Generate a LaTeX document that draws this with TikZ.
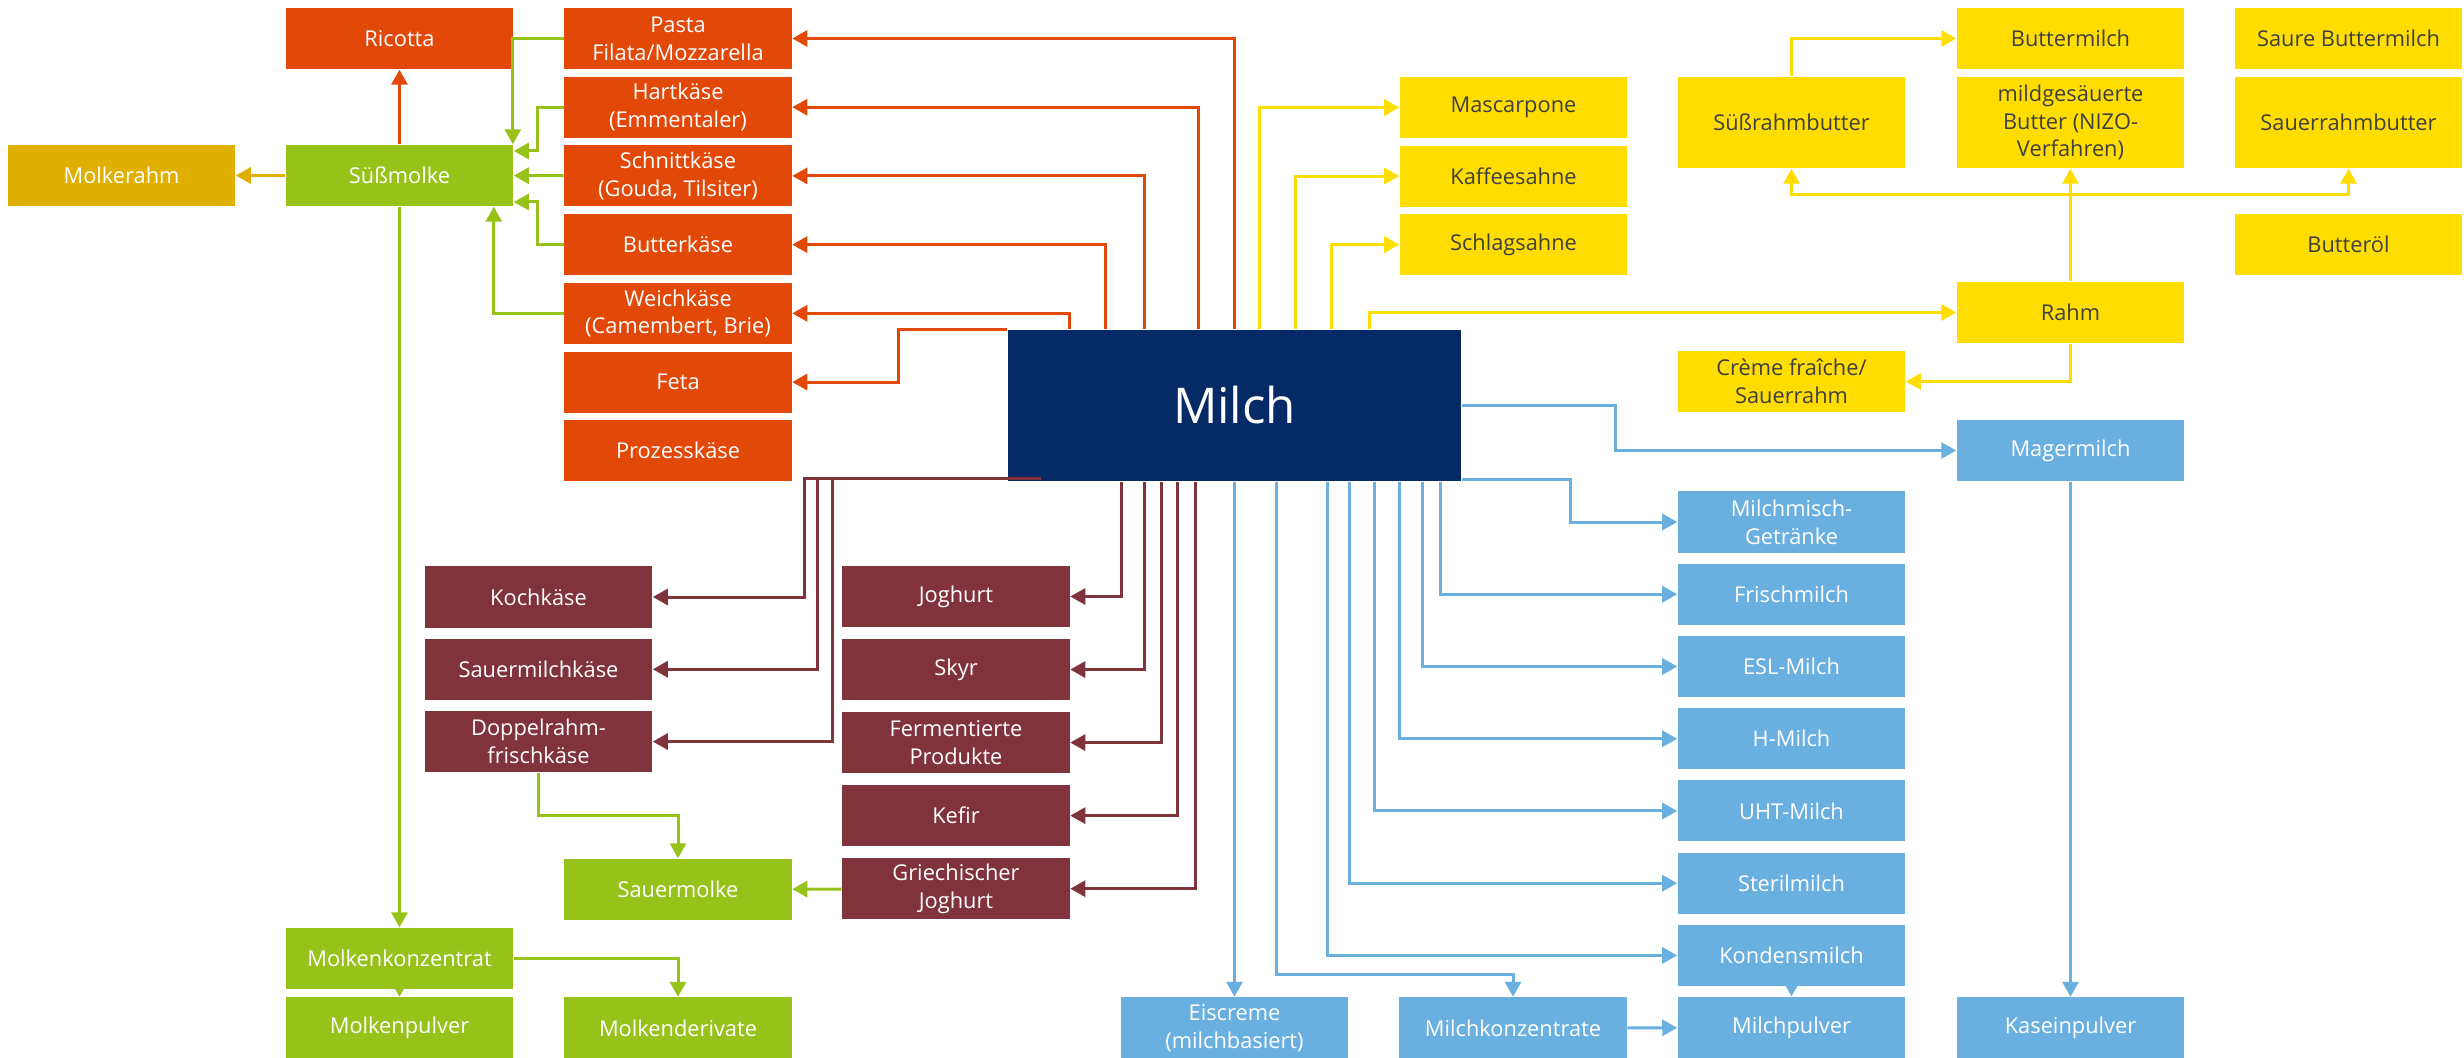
\documentclass[tikz,border=0pt]{standalone}
\usepackage{fontspec}
\setmainfont{Open Sans}
\usetikzlibrary{arrows.meta,calc}

\definecolor{kaese}{RGB}{226,72,8}
\definecolor{molke}{RGB}{151,194,26}
\definecolor{molkerahmgold}{RGB}{223,176,0}
\definecolor{rahmgelb}{RGB}{255,221,0}
\definecolor{sauermilch}{RGB}{128,51,59}
\definecolor{trinkblau}{RGB}{105,176,224}
\definecolor{milchblau}{RGB}{6,42,102}
\definecolor{schrift}{RGB}{64,64,64}

\tikzset{
  box/.style={rectangle,minimum width=2.27cm,minimum height=0.61cm,inner sep=0pt,
    align=center,font=\fontsize{6.2}{7.9}\selectfont},
  rbox/.style={box,fill=kaese,text=white},
  gbox/.style={box,fill=molke,text=white},
  ybox/.style={box,fill=rahmgelb,text=schrift},
  mbox/.style={box,fill=sauermilch,text=white},
  bbox/.style={box,fill=trinkblau,text=white},
  tall/.style={minimum height=0.91cm},
  link/.style={->,line width=0.03cm},
  rline/.style={link,draw=kaese},
  gline/.style={link,draw=molke},
  yline/.style={link,draw=rahmgelb},
  mline/.style={link,draw=sauermilch},
  bline/.style={link,draw=trinkblau}
}

\begin{document}
\begin{tikzpicture}[x=0.01cm,y=-0.01cm,>={Triangle[length=0.15cm,width=0.16cm]}]
  \useasboundingbox (0,0) rectangle (2464,1058);

  \node[fill=milchblau,text=white,minimum width=4.53cm,minimum height=1.51cm,
    font=\fontsize{14}{16}\selectfont] (milch) at (1234.5,405.5) {Milch};

  % Kaese
  \begin{scope}[node distance=0.6867cm]
  \node[rbox] (pasta) at (678,38.5) {Pasta\\Filata/Mozzarella};
  \node[rbox] (hart)    [below of=pasta]   {Hartkäse\\(Emmentaler)};
  \node[rbox] (schnitt) [below of=hart]    {Schnittkäse\\(Gouda, Tilsiter)};
  \node[rbox] (butter)  [below of=schnitt] {Butterkäse};
  \node[rbox] (weich)   [below of=butter]  {Weichkäse\\(Camembert, Brie)};
  \node[rbox] (feta)    [below of=weich]   {Feta};
  \node[rbox] (prozess) [below of=feta]    {Prozesskäse};
  \end{scope}
  \node[rbox] (ricotta) at (399.5,38.5) {Ricotta};
  \node[gbox] (suess) at (399.5,175.5) {Süßmolke};
  \node[box,fill=molkerahmgold,text=white] (molkerahm) at (121.5,175.5) {Molkerahm};

  % Molke
  \node[gbox] (mkonz) at (399.5,958.5) {Molkenkonzentrat};
  \node[gbox] (mkpulver) at (399.5,1028) {Molkenpulver};
  \node[gbox] (mderiv) at (678,1028) {Molkenderivate};
  \node[gbox] (sauermolke) at (678,889.5) {Sauermolke};

  % Sauermilch
  \begin{scope}[node distance=0.7225cm]
  \node[mbox] (koch) at (538.5,597) {Kochkäse};
  \node[mbox] (sauermk) [below of=koch]    {Sauermilchkäse};
  \node[mbox] (doppel)  [below of=sauermk] {Doppelrahm-\\frischkäse};
  \end{scope}
  \begin{scope}[node distance=0.73cm]
  \node[mbox] (jog) at (956,596.5) {Joghurt};
  \node[mbox] (skyr)   [below of=jog]   {Skyr};
  \node[mbox] (ferm)   [below of=skyr]  {Fermentierte\\Produkte};
  \node[mbox] (kefir)  [below of=ferm]  {Kefir};
  \node[mbox] (griech) [below of=kefir] {Griechischer\\Joghurt};
  \end{scope}

  % Sahne und Butter
  \begin{scope}[node distance=0.685cm]
  \node[ybox] (masc) at (1513.5,107.5) {Mascarpone};
  \node[ybox] (kaffee) [below of=masc]   {Kaffeesahne};
  \node[ybox] (schlag) [below of=kaffee] {Schlagsahne};
  \end{scope}
  \node[ybox,tall] (suessrahm) at (1791.5,122.5) {Süßrahmbutter};
  \node[ybox,tall] (mild) at (2070.5,122.5) {mildgesäuerte\\Butter (NIZO-\\Verfahren)};
  \node[ybox,tall] (sauerrahm) at (2348.5,122.5) {Sauerrahmbutter};
  \node[ybox] (buttermilch) at (2070.5,38.5) {Buttermilch};
  \node[ybox] (saure) at (2348.5,38.5) {Saure Buttermilch};
  \node[ybox] (butteroel) at (2348.5,244.5) {Butteröl};
  \node[ybox] (rahm) at (2070.5,312.5) {Rahm};
  \node[ybox] (creme) at (1791.5,381.5) {Crème fraîche/\\Sauerrahm};

  % Trinkmilch
  \node[bbox] (mager) at (2070.5,450.5) {Magermilch};
  \node[bbox] (kasein) at (2070.5,1028) {Kaseinpulver};
  \begin{scope}[node distance=0.722cm]
  \node[bbox] (misch) at (1791.5,522) {Milchmisch-\\Getränke};
  \node[bbox] (frisch)  [below of=misch]   {Frischmilch};
  \node[bbox] (esl)     [below of=frisch]  {ESL-Milch};
  \node[bbox] (hmilch)  [below of=esl]     {H-Milch};
  \node[bbox] (uht)     [below of=hmilch]  {UHT-Milch};
  \node[bbox] (steril)  [below of=uht]     {Sterilmilch};
  \node[bbox] (kondens) [below of=steril]  {Kondensmilch};
  \node[bbox] (mpulver) [below of=kondens] {Milchpulver};
  \end{scope}
  \node[bbox] (eis) at (1234.5,1028) {Eiscreme\\(milchbasiert)};
  \node[bbox] (konz) at (1513,1028) {Milchkonzentrate};

  % Milch -> Kaese
  \draw[rline] (milch.north) |- (pasta);
  \draw[rline] ($(milch.north)+(-36,0)$) |- (hart);
  \draw[rline] ($(milch.north)+(-90,0)$) |- (schnitt);
  \draw[rline] ($(milch.north)+(-129,0)$) |- (butter);
  \draw[rline] ($(milch.north)+(-165,0)$) |- (weich);
  \draw[rline] (milch.north west) -- ++(-109,0) |- (feta);

  % Kaese -> Molke
  \draw[gline] (pasta.west) -| ($(suess.north east)+(-1,0)$);
  \draw[gline] (hart.west) -- ++(-26,0) |- ($(suess.east)+(0,-24.5)$);
  \draw[gline] (schnitt) -- (suess);
  \draw[gline] (butter.west) -- ++(-26,0) |- ($(suess.east)+(0,26.5)$);
  \draw[gline] (weich.west) -| ($(suess.south east)+(-20,0)$);
  \draw[rline] (suess) -- (ricotta);
  \draw[link,draw=molkerahmgold] (suess) -- (molkerahm);
  \draw[gline] (suess) -- (mkonz);
  \draw[gline] (mkonz) -- (mkpulver);
  \draw[gline] (mkonz.east) -| (mderiv);
  \draw[gline] (doppel.south) -- ++(0,43) -| (sauermolke);
  \draw[gline] (griech) -- (sauermolke);

  % Milch -> Sauermilch
  \draw[mline] ($(milch.south west)+(34,-3)$) -- ++(-237,0) |- (koch);
  \draw[mline] ($(milch.south west)+(34,-3)$) -- ++(-224,0) |- (sauermk);
  \draw[mline] ($(milch.south west)+(34,-3)$) -- ++(-209,0) |- (doppel);
  \draw[mline] ($(milch.south)+(-113.5,0)$) |- (jog);
  \draw[mline] ($(milch.south)+(-90.5,0)$) |- (skyr);
  \draw[mline] ($(milch.south)+(-73.5,0)$) |- (ferm);
  \draw[mline] ($(milch.south)+(-57.5,0)$) |- (kefir);
  \draw[mline] ($(milch.south)+(-39.5,0)$) |- (griech);

  % Milch -> Sahne
  \draw[yline] ($(milch.north)+(25,0)$) |- (masc);
  \draw[yline] ($(milch.north)+(61,0)$) |- (kaffee);
  \draw[yline] ($(milch.north)+(97,0)$) |- (schlag);
  \draw[yline] ($(milch.north)+(135,0)$) |- (rahm);
  \draw[yline] (rahm) -- (mild);
  \draw[yline] (rahm.north) -- ++(0,-87) -| (suessrahm);
  \draw[yline] (rahm.north) -- ++(0,-87) -| (sauerrahm);
  \draw[yline] (suessrahm.north) |- (buttermilch);
  \draw[yline] (rahm.south) |- (creme);

  % Milch -> Trinkmilch
  \draw[bline] (milch.east) -- ++(154,0) |- (mager);
  \draw[bline] (mager) -- (kasein);
  \draw[bline] ($(milch.south east)+(0,-2)$) -- ++(109,0) |- (misch);
  \draw[bline] ($(milch.south)+(205.5,0)$) |- (frisch);
  \draw[bline] ($(milch.south)+(187.5,0)$) |- (esl);
  \draw[bline] ($(milch.south)+(164.5,0)$) |- (hmilch);
  \draw[bline] ($(milch.south)+(139.5,0)$) |- (uht);
  \draw[bline] ($(milch.south)+(114.5,0)$) |- (steril);
  \draw[bline] ($(milch.south)+(92.5,0)$) |- (kondens);
  \draw[bline] ($(milch.south)+(41.5,0)$) -- ++(0,493) -| (konz);
  \draw[bline] (milch.south) -- (eis);
  \draw[bline] (kondens) -- (mpulver);
  \draw[bline] (konz) -- (mpulver);
\end{tikzpicture}
\end{document}
